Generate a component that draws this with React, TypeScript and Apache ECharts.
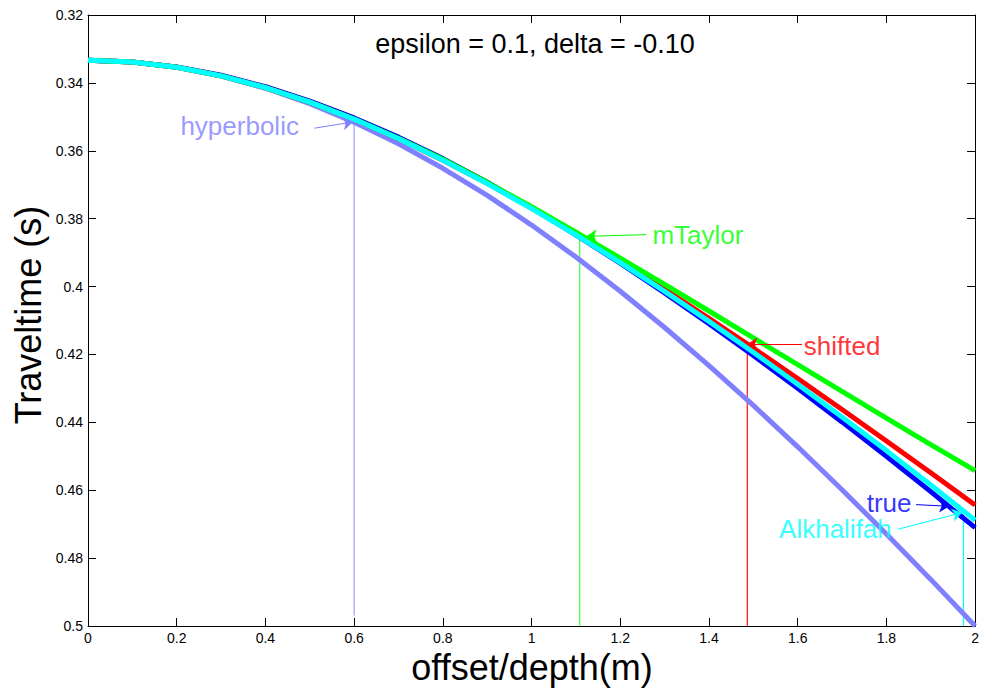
import React, { useEffect, useRef } from "react";
import * as echarts from "echarts";

const FONT = "'Liberation Sans', Arial, sans-serif";

const offsets = [0, 0.1, 0.2, 0.3, 0.4, 0.5, 0.6, 0.7, 0.8, 0.9, 1.0, 1.1, 1.2, 1.3, 1.4, 1.5, 1.6, 1.7, 1.8, 1.9, 2.0];

const hyperbolic = [0.33333, 0.33385, 0.33541, 0.33799, 0.34157, 0.34611, 0.35158, 0.35795, 0.36515, 0.37314, 0.38188, 0.39131, 0.40139, 0.41206, 0.42328, 0.43501, 0.44721, 0.45985, 0.47288, 0.48627, 0.5];
const trueTime = [0.33333, 0.33385, 0.3353, 0.33775, 0.34112, 0.34534, 0.35033, 0.35598, 0.3623, 0.36925, 0.37676, 0.38478, 0.39313, 0.40188, 0.41095, 0.42032, 0.42996, 0.43987, 0.45003, 0.46042, 0.47103];
const alkhalifah = [0.33333, 0.33385, 0.3354, 0.33793, 0.34138, 0.34567, 0.35073, 0.35646, 0.3628, 0.36967, 0.37701, 0.38478, 0.39293, 0.40143, 0.41025, 0.41937, 0.42876, 0.43842, 0.44833, 0.45847, 0.46883];
const shifted = [0.33333, 0.33385, 0.3354, 0.33793, 0.34138, 0.34567, 0.35072, 0.35645, 0.36277, 0.3696, 0.37688, 0.38455, 0.39255, 0.40084, 0.40939, 0.41815, 0.4271, 0.43622, 0.44548, 0.45488, 0.46438];
const mTaylor = [0.33333, 0.33385, 0.3354, 0.33793, 0.34137, 0.34565, 0.35066, 0.35632, 0.36251, 0.36935, 0.3765, 0.384, 0.3916, 0.39935, 0.4072, 0.4151, 0.423, 0.4309, 0.43875, 0.44655, 0.45423];

const curveNames = ["hyperbolic", "true", "shifted", "mTaylor", "Alkhalifah"];
const curveColors = ["#8080FF", "#0000FF", "#FF0000", "#00FF00", "#00FFFF"];
const curveValues = [hyperbolic, trueTime, shifted, mTaylor, alkhalifah];

// annotation labels: text-left x, text-middle y
const labelNames = ["hyperbolic", "mTaylor", "shifted", "true", "Alkhalifah"];
const labelColors = ["#8080FF", "#00FF00", "#FF0000", "#0000FF", "#00FFFF"];
const labelX = [0.2083, 1.2725, 1.6137, 1.7555, 1.558];
const labelY = [0.35258, 0.3849, 0.4175, 0.46385, 0.4715];

// arrows: from -> to
const arrowFrom = [[0.5102, 0.35335], [1.2587, 0.3847], [1.6096, 0.417], [1.867, 0.46424], [1.8253, 0.47152]];
const arrowTo = [[0.5974, 0.35152], [1.1243, 0.3852], [1.4864, 0.417], [1.9418, 0.46474], [1.9709, 0.46659]];

// vertical drop lines
const dropX = [0.6, 1.1085, 1.4864, 1.9738];
const dropTop = [0.3516, 0.3852, 0.417, 0.4666];
const dropBottom = [0.4969, 0.5, 0.5, 0.5];
const dropColors = ["#a0a0ff", "#40ff40", "#ff1010", "#00ffff"];

const titleText = "epsilon = 0.1, delta = -0.10";
const xName = "offset/depth(m)";
const yName = "Traveltime (s)";

export default function App() {
  const ref = useRef<HTMLDivElement>(null);
  useEffect(() => {
    if (!ref.current) return;
    const chart = echarts.init(ref.current, null, { renderer: "svg" });
    const axisCommon = {
      axisLine: { show: true, onZero: false, lineStyle: { color: "#000", width: 1 } },
      axisTick: { show: true, inside: true, length: 8, lineStyle: { color: "#000", width: 1 } },
      splitLine: { show: false },
    };
    const series: any[] = [];
    dropX.forEach((x, i) => {
      series.push({
        type: "line",
        silent: true,
        showSymbol: false,
        symbol: "none",
        itemStyle: { color: dropColors[i] },
        lineStyle: { color: dropColors[i], width: 1.2 },
        data: [[x, dropTop[i]], [x, dropBottom[i]]],
        z: 1,
      });
    });
    curveNames.forEach((n, i) => {
      series.push({
        type: "line",
        name: n,
        showSymbol: false,
        symbol: "none",
        silent: true,
        itemStyle: { color: curveColors[i] },
        lineStyle: { color: curveColors[i], width: 5 },
        data: offsets.map((x, j) => [x, curveValues[i][j]]),
        z: 2,
      });
    });
    arrowFrom.forEach((f, i) => {
      series.push({
        type: "lines",
        coordinateSystem: "cartesian2d",
        silent: true,
        symbol: ["none", "arrow"],
        symbolSize: 10,
        lineStyle: { color: labelColors[i], width: 1, opacity: 1 },
        itemStyle: { color: labelColors[i] },
        data: [{ coords: [f, arrowTo[i]] }],
        z: 3,
      });
    });
    series.push({
      type: "scatter",
      silent: true,
      symbolSize: 0,
      z: 4,
      data: labelNames.map((n, i) => ({
        name: n,
        value: [labelX[i], labelY[i]],
        label: {
          show: true,
          position: "right",
          distance: 0,
          formatter: n,
          color: labelColors[i],
          fontSize: 26,
          lineHeight: 22,
          fontFamily: FONT,
        },
      })),
    });

    chart.setOption({
      animation: false,
      backgroundColor: "#fff",
      grid: { left: 88, right: 1, top: 15, bottom: 62, containLabel: false },
      xAxis: [
        {
          type: "value",
          min: 0,
          max: 2,
          interval: 0.2,
          position: "bottom",
          ...axisCommon,
          axisLabel: { show: true, margin: 5, fontSize: 14, color: "#000", fontFamily: FONT },
        },
        {
          type: "value",
          min: 0,
          max: 2,
          interval: 0.2,
          position: "top",
          ...axisCommon,
          axisLabel: { show: false },
        },
      ],
      yAxis: [
        {
          type: "value",
          inverse: true,
          min: 0.32,
          max: 0.5,
          interval: 0.02,
          position: "left",
          ...axisCommon,
          axisLabel: { show: true, margin: 5, fontSize: 14, color: "#000", fontFamily: FONT },
        },
        {
          type: "value",
          inverse: true,
          min: 0.32,
          max: 0.5,
          interval: 0.02,
          position: "right",
          ...axisCommon,
          axisLabel: { show: false },
        },
      ],
      graphic: [
        {
          type: "text",
          x: 535,
          y: 44,
          silent: true,
          style: { text: titleText, fontSize: 27, fontFamily: FONT, fill: "#000", align: "center", verticalAlign: "middle" },
        },
        {
          type: "text",
          x: 532,
          y: 667,
          silent: true,
          style: { text: xName, fontSize: 36, fontFamily: FONT, fill: "#000", align: "center", verticalAlign: "middle" },
        },
        {
          type: "text",
          x: 28,
          y: 315,
          rotation: Math.PI / 2,
          silent: true,
          style: { text: yName, fontSize: 36, fontFamily: FONT, fill: "#000", align: "center", verticalAlign: "middle" },
        },
      ],
      series,
    });
    return () => chart.dispose();
  }, []);
  return (
    <div
      ref={ref}
      style={{ position: "fixed", left: 0, top: 0, width: 982, height: 688, background: "#fff" }}
    />
  );
}
